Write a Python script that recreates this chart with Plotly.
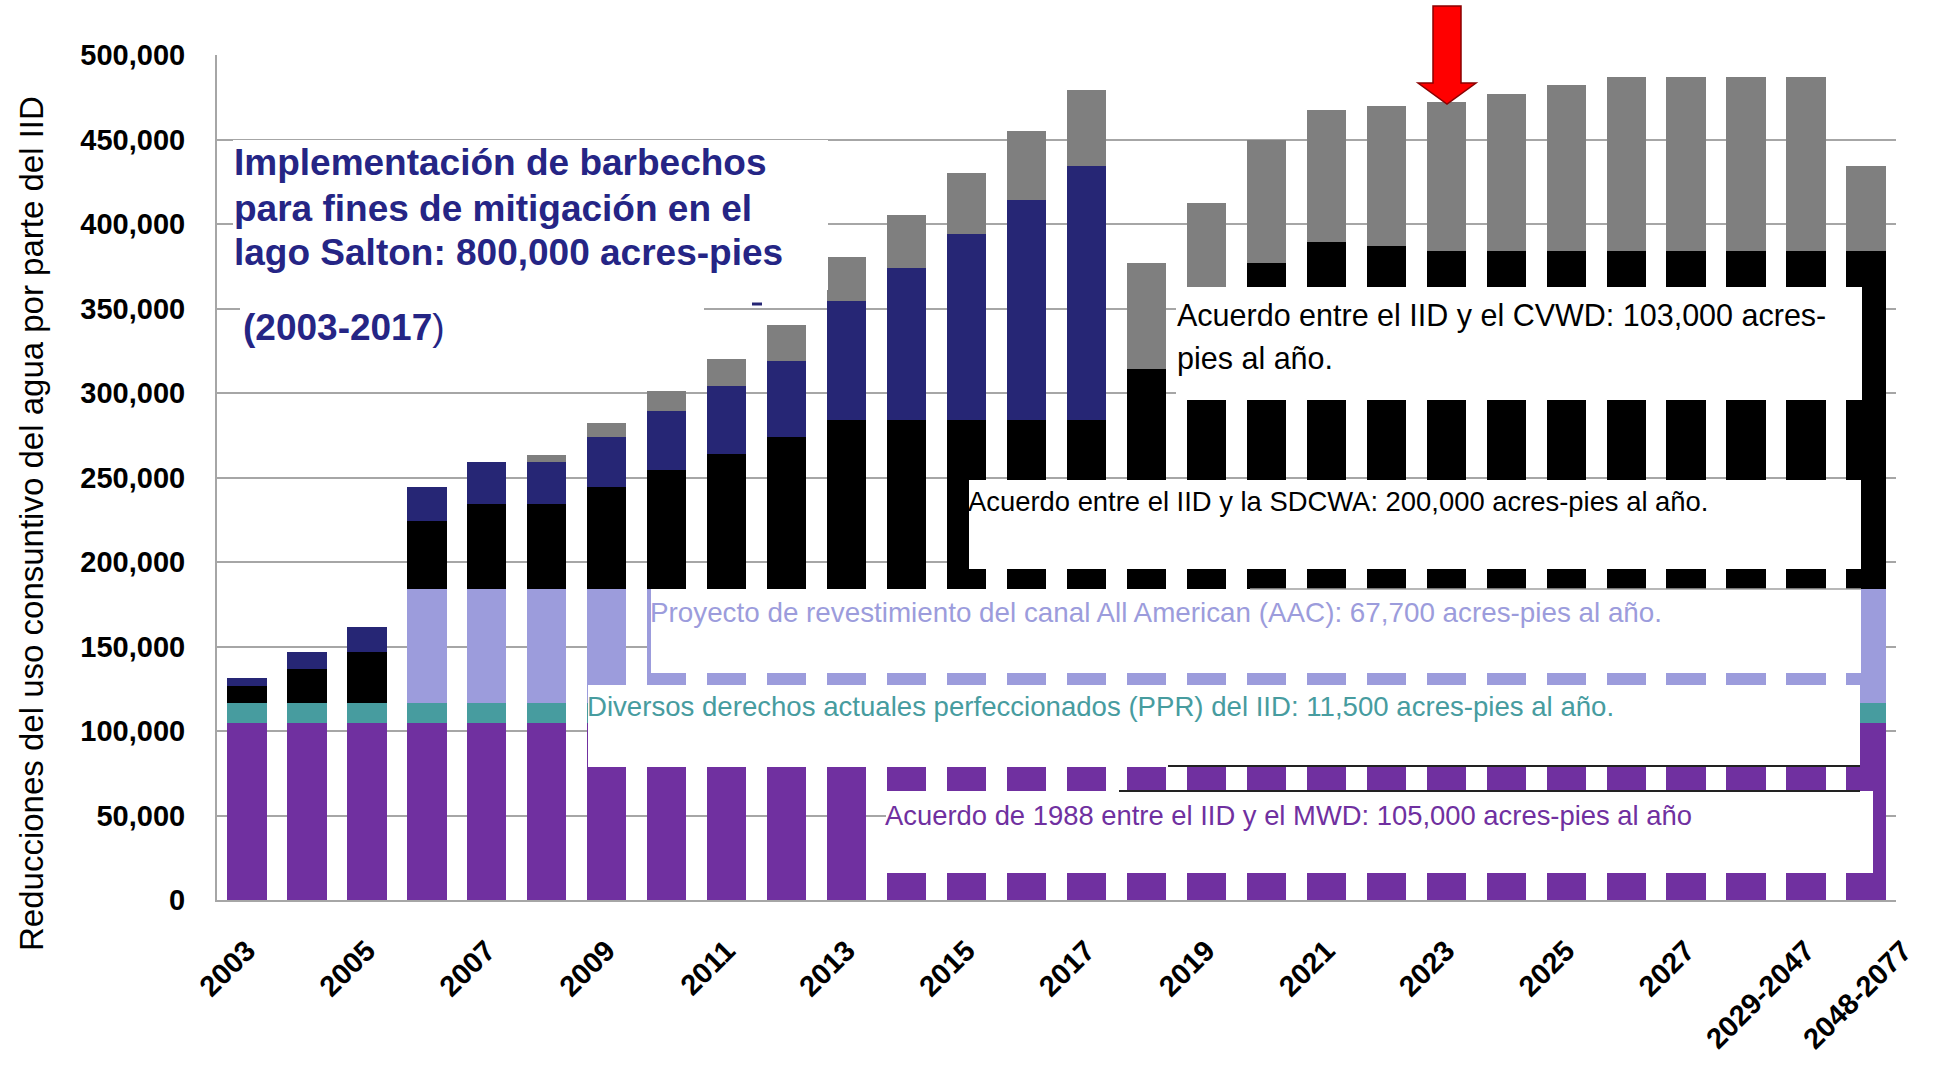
import plotly.graph_objects as go

# ---------------- data (acre-feet) ----------------
years = ["2003", "2004", "2005", "2006", "2007", "2008", "2009", "2010", "2011", "2012",
         "2013", "2014", "2015", "2016", "2017", "2018", "2019", "2020", "2021", "2022",
         "2023", "2024", "2025", "2026", "2027", "2028", "2029-2047", "2048-2077"]

mwd_1988 = [105000, 105000, 105000, 105000, 105000, 105000, 105000, 105000, 105000, 105000,
            105000, 105000, 105000, 105000, 105000, 105000, 105000, 105000, 105000, 105000,
            105000, 105000, 105000, 105000, 105000, 105000, 105000, 105000]
ppr_misc = [11500, 11500, 11500, 11500, 11500, 11500, 11500, 11500, 11500, 11500,
            11500, 11500, 11500, 11500, 11500, 11500, 11500, 11500, 11500, 11500,
            11500, 11500, 11500, 11500, 11500, 11500, 11500, 11500]
aac_lining = [0, 0, 0, 67700, 67700, 67700, 67700, 67700, 67700, 67700,
              67700, 67700, 67700, 67700, 67700, 67700, 67700, 67700, 67700, 67700,
              67700, 67700, 67700, 67700, 67700, 67700, 67700, 67700]
sdcwa = [10000, 20000, 30000, 40000, 50000, 50000, 60000, 70000, 80000, 90000,
         100000, 100000, 100000, 100000, 100000, 130000, 160000, 192500, 205000, 202500,
         200000, 200000, 200000, 200000, 200000, 200000, 200000, 200000]
salton_fallow = [5000, 10000, 15000, 20000, 25000, 25000, 30000, 35000, 40000, 45000,
                 70000, 90000, 110000, 130000, 150000, 0, 0, 0, 0, 0,
                 0, 0, 0, 0, 0, 0, 0, 0]
cvwd = [0, 0, 0, 0, 0, 4000, 8000, 12000, 16000, 21000,
        26000, 31000, 36000, 41000, 45000, 63000, 68000, 73000, 78000, 83000,
        88000, 93000, 98000, 103000, 103000, 103000, 103000, 50000]

tick_labels = ["2003", "2005", "2007", "2009", "2011", "2013", "2015", "2017", "2019",
               "2021", "2023", "2025", "2027", "2029-2047"]
last_label = "2048-2077"
y_ticks = [0, 50000, 100000, 150000, 200000, 250000, 300000, 350000, 400000, 450000, 500000]

# ---------------- styling ----------------
PURPLE = "#7030A0"
TEAL = "#479C9F"
LAV = "#9C9CDC"
NAVY = "#262675"
GRAY = "#7F7F7F"
BLACK = "#000000"
TITLE_NAVY = "#252585"
GRID = "#A6A6A6"
SANS = "Liberation Sans, Arial, sans-serif"

W, H = 1934, 1072
L, R, T, B = 217, 1896, 55, 900
PW, PH = R - L, B - T


def px(x):
    return (x - L) / PW


def py(y):
    return (B - y) / PH


fig = go.Figure()
series = [
    ("Acuerdo de 1988 IID-MWD", mwd_1988, PURPLE),
    ("PPR", ppr_misc, TEAL),
    ("AAC", aac_lining, LAV),
    ("IID-SDCWA", sdcwa, BLACK),
    ("Mitigación lago Salton", salton_fallow, NAVY),
    ("IID-CVWD", cvwd, GRAY),
]
for name, vals, col in series:
    fig.add_trace(go.Bar(x=years, y=vals, name=name, marker_color=col,
                         marker_line_width=0, showlegend=False))

shapes = []


def box(x0, y0, x1, y1):
    shapes.append(dict(type="rect", xref="paper", yref="paper",
                       x0=px(x0), x1=px(x1), y0=py(y1), y1=py(y0),
                       fillcolor="white", line_width=0, layer="above"))


def seg(x0, y0, x1, y1, color, width):
    shapes.append(dict(type="line", xref="paper", yref="paper",
                       x0=px(x0), x1=px(x1), y0=py(y0), y1=py(y1),
                       line=dict(color=color, width=width), layer="above"))


box(233, 140, 828, 290)
box(240, 290, 704, 362)
box(1176, 287, 1862, 400)
box(969, 480, 1861, 569)
box(651, 589, 1861, 673)
box(588, 685, 1860, 767)
box(886, 791, 1873, 873)
seg(1250, 589, 1861, 589, "#A0A0A0", 1.5)
seg(1168, 766, 1860, 766, "#222222", 2)
seg(1119, 791, 1860, 791, "#222222", 2)
seg(752, 304, 762, 304, NAVY, 3)

# red arrow above 2023
ax = 1447
pts = [(ax - 14, 6), (ax + 14, 6), (ax + 14, 83), (ax + 29, 83), (ax, 104),
       (ax - 29, 83), (ax - 14, 83)]
path = "M " + " L ".join(f"{px(x):.5f},{py(y):.5f}" for x, y in pts) + " Z"
shapes.append(dict(type="path", xref="paper", yref="paper", path=path,
                   fillcolor="#FF0000", line=dict(color="#8B0000", width=1.5),
                   layer="above"))

ann = []


def text(x, y, s, color, size, family=SANS, anchor="left", angle=0, bold=False):
    ann.append(dict(xref="paper", yref="paper", x=px(x), y=py(y), text=s,
                    showarrow=False, xanchor=anchor, yanchor="middle", align="left",
                    textangle=angle,
                    font=dict(family=family, size=size, color=color,
                              weight="bold" if bold else "normal")))


text(232, 163, "Implementación de barbechos", TITLE_NAVY, 37, bold=True)
text(232, 208, "para fines de mitigación en el", TITLE_NAVY, 37, bold=True)
text(232, 252, "lago Salton: 800,000 acres-pies", TITLE_NAVY, 37, bold=True)
text(241, 328, "<b>(2003-2017</b>)", TITLE_NAVY, 37)
text(1175, 315, "Acuerdo entre el IID y el CVWD: 103,000 acres-", "#000000", 30.5)
text(1175, 358, "pies al año.", "#000000", 30.5)
text(966, 502, "Acuerdo entre el IID y la SDCWA: 200,000 acres-pies al año.", "#000000", 27.4)
text(648, 612, "Proyecto de revestimiento del canal All American (AAC): 67,700 acres-pies al año.", LAV, 27.8)
text(585, 706, "Diversos derechos actuales perfeccionados (PPR) del IID: 11,500 acres-pies al año.", TEAL, 27.6)
text(883, 815, "Acuerdo de 1988 entre el IID y el MWD: 105,000 acres-pies al año", PURPLE, 27.4)
text(31, 524, "Reducciones del uso consuntivo del agua por parte del IID", "#000000", 33,
     anchor="center", angle=-90)
text(1857, 995, last_label, "#000000", 29, anchor="center", angle=-45, bold=True)

fig.update_layout(
    width=W, height=H,
    margin=dict(l=L, r=W - R, t=T, b=H - B, autoexpand=False),
    barmode="stack", bargap=0.345,
    plot_bgcolor="white", paper_bgcolor="white",
    shapes=shapes, annotations=ann,
    xaxis=dict(type="category", categoryorder="array", categoryarray=years,
               range=[-0.5, 27.5], tickmode="array", tickvals=tick_labels, ticktext=tick_labels,
               tickangle=-45, tickfont=dict(family=SANS, size=29, color="black", weight="bold"),
               showline=True, linecolor=GRID, linewidth=2, ticks="", showgrid=False,
               ticklabelstandoff=20),
    yaxis=dict(range=[0, 500000], tickmode="array", tickvals=y_ticks, tickformat=",d",
               tickfont=dict(family=SANS, size=29, color="black", weight="bold"),
               showgrid=True, gridcolor=GRID, gridwidth=2, zeroline=False,
               showline=True, linecolor=GRID, linewidth=2, ticks="",
               ticklabelstandoff=24),
)

fig.write_html("out.html")
